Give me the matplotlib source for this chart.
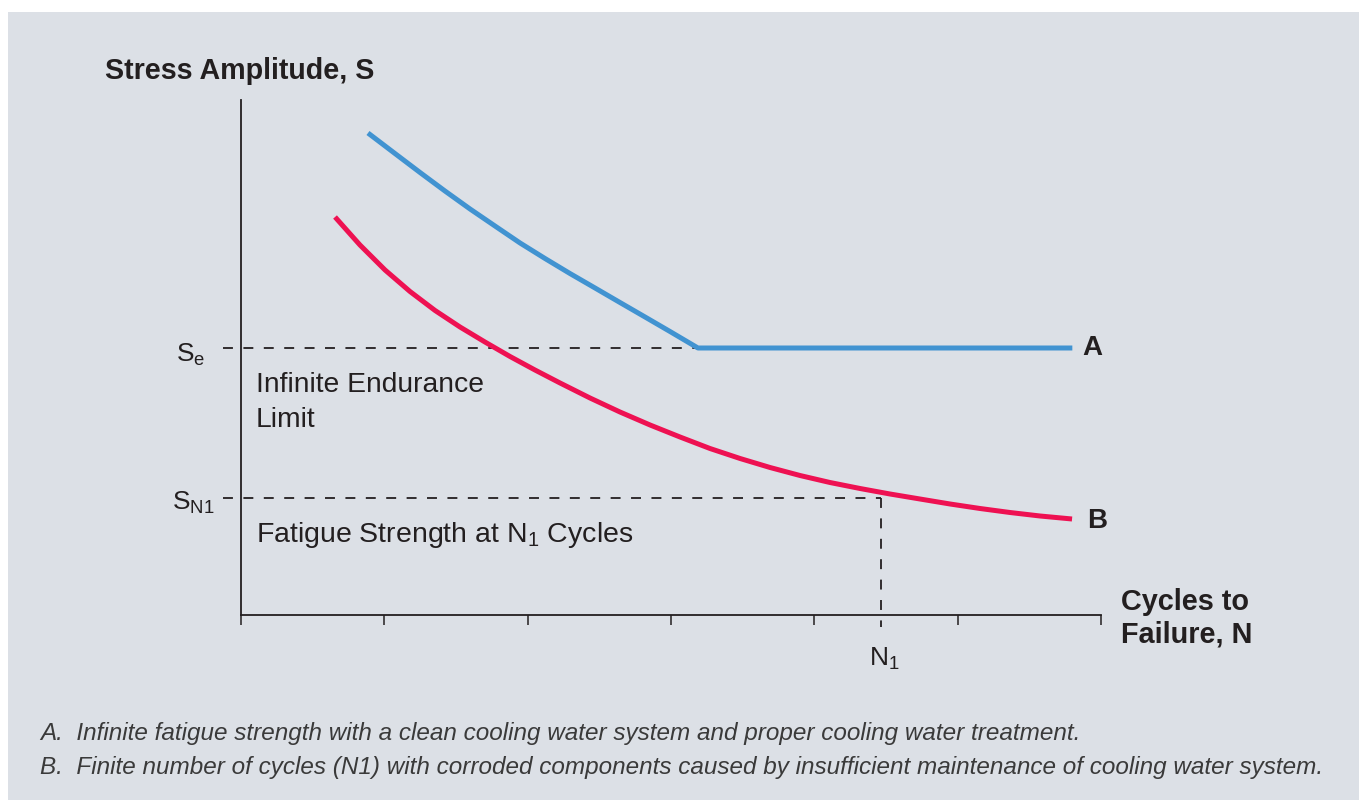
import matplotlib
matplotlib.use("Agg")
import matplotlib.pyplot as plt
from matplotlib.patches import Rectangle

# Courbe A (bleue) : décroissance puis limite d'endurance
blue_x = [0.886, 1.074, 1.249, 1.423, 1.598, 1.772, 1.947, 2.121, 2.295,
          2.470, 2.644, 2.819, 2.993, 3.188, 5.80]
blue_y = [4.82, 4.615, 4.425, 4.24, 4.06, 3.89, 3.72, 3.565, 3.415,
          3.27, 3.125, 2.98, 2.835, 2.67, 2.67]

# Courbe B (rouge) : décroissance continue
red_x = [0.656, 0.830, 1.005, 1.179, 1.354, 1.528, 1.702, 1.877, 2.051,
         2.226, 2.435, 2.644, 2.854, 3.063, 3.272, 3.482, 3.691, 3.900,
         4.109, 4.319, 4.528, 4.737, 4.947, 5.156, 5.365, 5.575, 5.798]
red_y = [3.98, 3.70, 3.45, 3.235, 3.045, 2.88, 2.73, 2.585, 2.45,
         2.32, 2.17, 2.03, 1.90, 1.78, 1.665, 1.565, 1.475, 1.395,
         1.325, 1.265, 1.21, 1.16, 1.11, 1.065, 1.025, 0.99, 0.96]

x_ticks = [0, 1, 2, 3, 4, 5, 6]
s_e = 2.67
s_n1 = 1.175
n1 = 4.466

notes = [
    "A.  Infinite fatigue strength with a clean cooling water system and proper cooling water treatment.",
    "B.  Finite number of cycles (N1) with corroded components caused by insufficient maintenance of cooling water system.",
]

BG = "#dce0e6"
INK = "#231f20"
BLUE = "#4193d1"
RED = "#ee1152"

plt.rcParams["font.family"] = ["Liberation Sans", "DejaVu Sans"]

W, H = 1359, 800
fig = plt.figure(figsize=(W / 100, H / 100), dpi=100)
fig.patch.set_facecolor("white")
fig.patches.append(Rectangle((8 / W, 0), 1, (H - 12) / H, transform=fig.transFigure,
                             facecolor=BG, edgecolor="none", zorder=-10))

ax = fig.add_axes([241 / W, (H - 615) / H, 860 / W, 515 / H])
ax.set_facecolor("none")
ax.set_xlim(0, 6)
ax.set_ylim(0, 5.15)
for side in ["top", "right"]:
    ax.spines[side].set_visible(False)
for side in ["left", "bottom"]:
    ax.spines[side].set_linewidth(1.3)
    ax.spines[side].set_color(INK)
ax.set_xticks(x_ticks)
ax.set_yticks([])
ax.tick_params(axis="x", direction="out", length=7.2, width=1.1, color=INK, labelbottom=False)

# lignes pointillées
dash = dict(color=INK, lw=1.3, dashes=(5.5, 5.8), clip_on=False, zorder=2)
ax.plot([-0.126, blue_x[-2]], [s_e, s_e], **dash)
ax.plot([-0.126, n1], [s_n1, s_n1], **dash)
ax.plot([n1, n1], [s_n1, -0.12], **dash)

ax.plot(blue_x, blue_y, color=BLUE, lw=3.6, solid_capstyle="butt", solid_joinstyle="round", zorder=3)
ax.plot(red_x, red_y, color=RED, lw=3.6, solid_capstyle="butt", solid_joinstyle="round", zorder=3)

# étiquettes
ax.text(5.87, s_e, "A", fontsize=20, fontweight="bold", color=INK, va="center", ha="left")
ax.text(5.905, 0.94, "B", fontsize=20, fontweight="bold", color=INK, va="center", ha="left")
ax.text(-0.251, 2.53, r"S$_\mathregular{e}$", fontsize=19, color=INK, ha="right", va="baseline")
ax.text(-0.181, 1.05, r"S$_\mathregular{N1}$", fontsize=19, color=INK, ha="right", va="baseline")
ax.text(4.49, -0.50, r"N$_\mathregular{1}$", fontsize=19, color=INK, ha="center", va="baseline")
ax.text(0.105, 2.23, "Infinite Endurance", fontsize=20.3, color=INK, ha="left", va="baseline")
ax.text(0.105, 1.88, "Limit", fontsize=20.3, color=INK, ha="left", va="baseline")
ax.text(0.105, 0.73, r"Fatigue Strength at N$_\mathregular{1}$ Cycles", fontsize=20.5, color=INK,
        ha="left", va="baseline")

fig.text(105 / W, 1 - 71 / H, "Stress Amplitude, S", fontsize=20.6, fontweight="bold",
         color=INK, ha="left", va="center")
fig.text(1121 / W, 1 - 618 / H, "Cycles to\nFailure, N", fontsize=20.8, fontweight="bold",
         color=INK, ha="left", va="center", linespacing=1.2)

fig.text(40 / W, 1 - 740 / H, notes[0], fontsize=17.5, style="italic", color="#3a3a3a",
         ha="left", va="baseline")
fig.text(40 / W, 1 - 774 / H, notes[1], fontsize=17.5, style="italic", color="#3a3a3a",
         ha="left", va="baseline")

fig.savefig("out.png", dpi=100, facecolor=fig.get_facecolor())
